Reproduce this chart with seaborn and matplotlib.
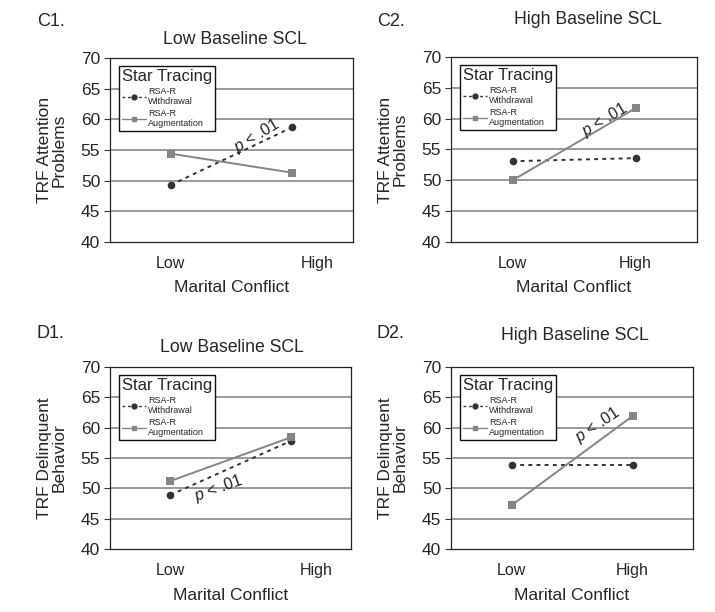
import pandas as pd
import seaborn as sns
import matplotlib.pyplot as plt
from matplotlib.lines import Line2D
from matplotlib.transforms import ScaledTranslation

conflict = ['Low', 'High']
series = ['Withdrawal', 'Augmentation']

c1_withdrawal = [49.3, 58.7]
c1_augmentation = [54.4, 51.3]
c2_withdrawal = [53.1, 53.6]
c2_augmentation = [50.0, 61.7]
d1_withdrawal = [48.9, 57.8]
d1_augmentation = [51.2, 58.4]
d2_withdrawal = [53.8, 53.8]
d2_augmentation = [47.2, 61.9]

yticks = [40, 45, 50, 55, 60, 65, 70]

sns.set_theme(style='white')
plt.rcParams['font.family'] = ['Liberation Sans', 'DejaVu Sans']
plt.rcParams['mathtext.fontset'] = 'custom'
plt.rcParams['mathtext.it'] = 'Liberation Sans:italic'
plt.rcParams['mathtext.rm'] = 'Liberation Sans'

colors = {'Withdrawal': '#333333', 'Augmentation': '#858585'}
markers = {'Withdrawal': 'o', 'Augmentation': 's'}
dashes = {'Withdrawal': (2, 2.2), 'Augmentation': ''}

W, H = 715, 612
fig = plt.figure(figsize=(7.15, 6.12), dpi=100)


def px_axes(l, t, r, b):
    return fig.add_axes([l / W, 1 - b / H, (r - l) / W, (b - t) / H])


panels = [
    # label, title, ylabel, withdrawal, augmentation, axes box, label pos, title pos,
    # p-text (x, y, rot), shift of the "High" tick label in px
    ('C1.', 'Low Baseline SCL', 'TRF Attention\nProblems', c1_withdrawal, c1_augmentation,
     (110, 58, 353, 242), (37, 22), (235, 40), (0.71, 57.4, 31), 25),
    ('C2.', 'High Baseline SCL', 'TRF Attention\nProblems', c2_withdrawal, c2_augmentation,
     (451, 57, 697, 242), (377, 21), (588, 20), (0.75, 59.8, 31), 0),
    ('D1.', 'Low Baseline SCL', 'TRF Delinquent\nBehavior', d1_withdrawal, d1_augmentation,
     (110, 367, 351, 549), (37, 334), (232, 347), (0.40, 50.0, 20), 25),
    ('D2.', 'High Baseline SCL', 'TRF Delinquent\nBehavior', d2_withdrawal, d2_augmentation,
     (451, 367, 693, 549), (377, 334), (575, 335), (0.715, 60.4, 34), 0),
]

for lab, title, ylab, wd, au, box, lpos, tpos, ptxt, hshift in panels:
    ax = px_axes(*box)
    df = pd.DataFrame({
        'pos': list(range(len(conflict))) * 2,
        'score': wd + au,
        'series': ['Withdrawal'] * len(wd) + ['Augmentation'] * len(au),
    })
    sns.lineplot(data=df, x='pos', y='score', hue='series', style='series',
                 palette=colors, markers=markers, dashes=dashes,
                 markersize=5.5, markeredgewidth=0, linewidth=1.4,
                 legend=False, ax=ax)

    ax.set_xlim(-0.5, 1.5)
    ax.set_ylim(40, 70)
    ax.set_yticks(yticks)
    ax.set_xticks(range(len(conflict)))
    ax.set_xticklabels(conflict)
    ax.set_xlabel('')
    ax.set_ylabel('')
    for y in yticks[1:-1]:
        ax.axhline(y, color='#929292', lw=1.3, zorder=0)
    ax.tick_params(axis='y', left=True, length=4, width=0.8, color='#333333',
                   labelsize=12.5, pad=3)
    ax.tick_params(axis='x', bottom=False, labelsize=11.5, pad=4)
    if hshift:
        tl = ax.get_xticklabels()[1]
        tl.set_transform(tl.get_transform() + ScaledTranslation(hshift / 100, 0, fig.dpi_scale_trans))
    for s in ax.spines.values():
        s.set_color('#222222')
        s.set_linewidth(0.9)

    # p-value note along the significant slope
    ax.text(ptxt[0], ptxt[1], r'$p$ < .01', rotation=ptxt[2], rotation_mode='anchor',
            ha='center', va='center', fontsize=11.5, color='#222222')

    handles = [
        Line2D([], [], color=colors['Withdrawal'], marker='o', markersize=3.5,
               linestyle=(0, (2, 2)), lw=1.0),
        Line2D([], [], color=colors['Augmentation'], marker='s', markersize=3.5,
               lw=1.0),
    ]
    leg = ax.legend(handles, ['RSA-R\nWithdrawal', 'RSA-R\nAugmentation'],
                    title='Star Tracing', loc='upper left',
                    bbox_to_anchor=(0.02, 0.98), fontsize=6.5, title_fontsize=12,
                    frameon=True, fancybox=False, edgecolor='#111111',
                    framealpha=1, handlelength=2.6, handletextpad=0.3,
                    borderpad=0.3, labelspacing=0.3, alignment='left')
    leg.get_frame().set_linewidth(1.0)

    fig.text(lpos[0] / W, 1 - lpos[1] / H, lab, ha='left', va='center', fontsize=13)
    fig.text(tpos[0] / W, 1 - tpos[1] / H, title, ha='center', va='center', fontsize=12.7)
    l, t, r, b = box
    fig.text((l - 58) / W, 1 - ((t + b) / 2) / H, ylab, rotation=90, ha='center',
             va='center', multialignment='center', fontsize=12.5, linespacing=1.0)
    fig.text(((l + r) / 2) / W, 1 - (b + 46) / H, 'Marital Conflict', ha='center',
             va='center', fontsize=12.5)

fig.savefig('out.png', dpi=100)
